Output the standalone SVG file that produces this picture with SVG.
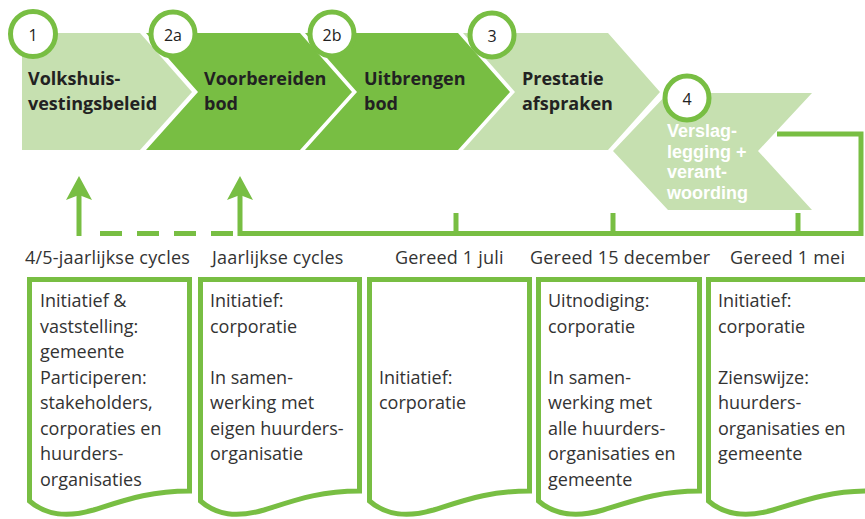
<svg xmlns="http://www.w3.org/2000/svg" width="865" height="519" viewBox="0 0 865 519">
<style>
.lt{fill:#c6e0b0}
.dk{fill:#78be43}
.ch{font-family:"Open Sans","Noto Sans",sans-serif;font-weight:bold;font-size:18px;fill:#222}
.chw{font-family:"Liberation Sans",Arial,sans-serif;font-weight:bold;font-size:18px;fill:#ffffff}
.num{font-family:"Open Sans","Noto Sans",sans-serif;font-size:16px;fill:#222;text-anchor:middle}
.circ{fill:#ffffff;stroke:#78be43;stroke-width:5}
.lbl{font-family:"Open Sans","Noto Sans",sans-serif;font-size:18px;letter-spacing:0.2px;fill:#333}
.bx{font-family:"Open Sans","Noto Sans",sans-serif;font-size:18px;fill:#333}
.doc{fill:#ffffff;stroke:#78be43;stroke-width:5;stroke-linejoin:miter}
.ln{fill:none;stroke:#78be43;stroke-width:5}
.ah{fill:#78be43}
</style>

<g id="step1">
<polygon class="lt" points="22,33 140,33 192,92 140,150 22,150"/>
<text class="ch" x="28" y="85">Volkshuis-</text>
<text class="ch" x="28" y="110">vestingsbeleid</text>
<circle class="circ" cx="33" cy="34" r="22.5"/>
<text class="num" x="33" y="41">1</text>
</g>

<g id="step2a">
<polygon class="dk" points="146,33 300,33 352,92 300,150 146,150 198,92"/>
<text class="ch" x="204" y="85">Voorbereiden</text>
<text class="ch" x="204" y="110">bod</text>
<circle class="circ" cx="173" cy="34" r="22"/>
<text class="num" x="173" y="41">2a</text>
</g>

<g id="step2b">
<polygon class="dk" points="305,33 458,33 510,92 458,150 305,150 357,92"/>
<text class="ch" x="364" y="85">Uitbrengen</text>
<text class="ch" x="364" y="110">bod</text>
<circle class="circ" cx="332" cy="34" r="22"/>
<text class="num" x="332" y="41">2b</text>
</g>

<g id="step3">
<polygon class="lt" points="463,33 608,33 660,92 608,150 463,150 515,92"/>
<text class="ch" x="522" y="85">Prestatie</text>
<text class="ch" x="522" y="110">afspraken</text>
<circle class="circ" cx="492" cy="35" r="22"/>
<text class="num" x="492" y="42">3</text>
</g>

<g id="step4">
<polygon class="lt" points="668,93 812,93 758,151 812,210 668,210 613,151"/>
<text class="chw" x="667" y="137">Verslag-</text>
<text class="chw" x="667" y="157.5">legging +</text>
<text class="chw" x="667" y="178">verant-</text>
<text class="chw" x="667" y="198.5">woording</text>
<circle class="circ" cx="687" cy="98" r="22"/>
<text class="num" x="687" y="105">4</text>
</g>

<g id="connectors">
<path class="ln" d="M79,236 V195"/>
<path class="ln" d="M100,233.5 H236" stroke-dasharray="22 15"/>
<path class="ln" d="M777,134 H861 V233.5 H240 V195"/>
<path class="ln" d="M456,213 V233"/>
<path class="ln" d="M613,213 V233"/>
<path class="ln" d="M798,213 V233"/>
<polygon class="ah" points="79,176 92,200 79,195 66,200"/>
<polygon class="ah" points="240,176 253,200 240,195 227,200"/>
</g>

<g id="labels">
<text class="lbl" x="25" y="264">4/5-jaarlijkse cycles</text>
<text class="lbl" x="212" y="264">Jaarlijkse cycles</text>
<text class="lbl" x="395" y="264">Gereed 1 juli</text>
<text class="lbl" x="530" y="264">Gereed 15 december</text>
<text class="lbl" x="730" y="264">Gereed 1 mei</text>
</g>

<g id="box1">
<path class="doc" d="M29.5,279.5 H189.5 V491 C149.5,491 125.5,500 93.5,510 C65.5,518 45.5,515 29.5,501 Z"/>
<text class="bx" x="40" y="307">Initiatief &amp;</text>
<text class="bx" x="40" y="332.5">vaststelling:</text>
<text class="bx" x="40" y="358">gemeente</text>
<text class="bx" x="40" y="383.5">Participeren:</text>
<text class="bx" x="40" y="409">stakeholders,</text>
<text class="bx" x="40" y="434.5">corporaties en</text>
<text class="bx" x="40" y="460">huurders-</text>
<text class="bx" x="40" y="485.5">organisaties</text>
</g>

<g id="box2">
<path class="doc" d="M200.5,279.5 H359.5 V491 C319.5,491 295.5,500 264,510 C236,518 216.5,515 200.5,501 Z"/>
<text class="bx" x="210" y="307">Initiatief:</text>
<text class="bx" x="210" y="332.5">corporatie</text>
<text class="bx" x="210" y="383.5">In samen-</text>
<text class="bx" x="210" y="409">werking met</text>
<text class="bx" x="210" y="434.5">eigen huurders-</text>
<text class="bx" x="210" y="460">organisatie</text>
</g>

<g id="box3">
<path class="doc" d="M369.5,279.5 H529.5 V491 C489.5,491 465.5,500 433.5,510 C405.5,518 385.5,515 369.5,501 Z"/>
<text class="bx" x="379" y="383.5">Initiatief:</text>
<text class="bx" x="379" y="409">corporatie</text>
</g>

<g id="box4">
<path class="doc" d="M538.5,279.5 H699.5 V491 C659.5,491 635.5,500 603,510 C575,518 554.5,515 538.5,501 Z"/>
<text class="bx" x="548" y="307">Uitnodiging:</text>
<text class="bx" x="548" y="332.5">corporatie</text>
<text class="bx" x="548" y="383.5">In samen-</text>
<text class="bx" x="548" y="409">werking met</text>
<text class="bx" x="548" y="434.5">alle huurders-</text>
<text class="bx" x="548" y="460">organisaties en</text>
<text class="bx" x="548" y="485.5">gemeente</text>
</g>

<g id="box5">
<path class="doc" d="M708.5,279.5 H869.5 V491 C829.5,491 805.5,500 773,510 C745,518 724.5,515 708.5,501 Z"/>
<text class="bx" x="718" y="307">Initiatief:</text>
<text class="bx" x="718" y="332.5">corporatie</text>
<text class="bx" x="718" y="383.5">Zienswijze:</text>
<text class="bx" x="718" y="409">huurders-</text>
<text class="bx" x="718" y="434.5">organisaties en</text>
<text class="bx" x="718" y="460">gemeente</text>
</g>
</svg>
